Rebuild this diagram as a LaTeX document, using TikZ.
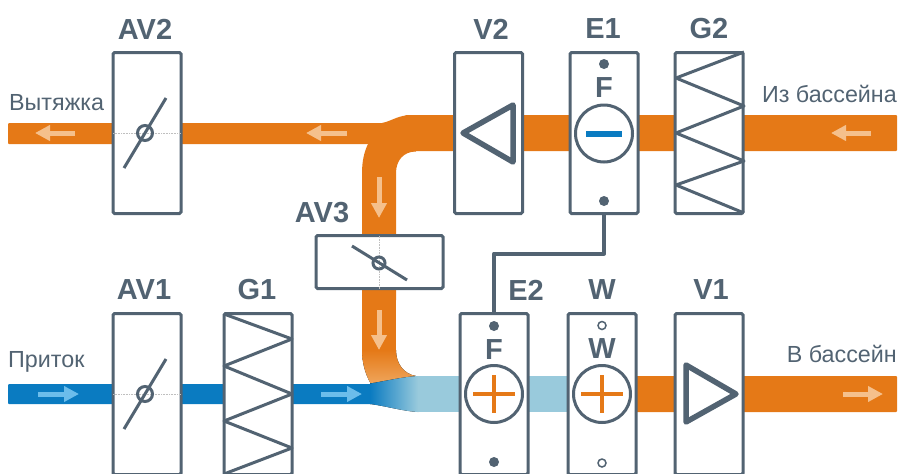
\documentclass[tikz,border=0pt]{standalone}
\usepackage{fontspec}
\setmainfont{Liberation Sans}
\usetikzlibrary{arrows.meta}
\definecolor{slate}{HTML}{526372}
\definecolor{ductorange}{HTML}{E57917}
\definecolor{ductblue}{HTML}{0A7BC1}
\definecolor{ductpale}{HTML}{99CADC}
\definecolor{ductfade}{HTML}{EFA65C}
\definecolor{flowpeach}{HTML}{F5C08C}
\definecolor{flowsky}{HTML}{6CBDEB}
\tikzset{
  unitbox/.style={draw=slate, line width=3pt, fill=white, rounded corners=1.5pt, inner sep=0pt, outer sep=0pt},
  unitlabel/.style={text=slate, font=\fontsize{29}{29}\selectfont\bfseries, inner sep=0pt},
  ductlabel/.style={text=slate, font=\fontsize{23.3}{23.3}\selectfont, inner sep=0pt},
  symline/.style={draw=slate, line width=3pt},
  flowarrow/.style={line width=5pt, -{Triangle[length=15pt,width=15pt]}},
  flapaxis/.style={draw=black!25, line width=0.6pt, densely dotted}
}
\begin{document}
\begin{tikzpicture}[x=1pt,y=-1pt]
\useasboundingbox (0,0) rectangle (900,474);
% ducts
\fill[ductorange, rounded corners=1pt] (8,123) rectangle (400,144);
\fill[ductorange, rounded corners=1pt] (405,115) rectangle (897,151);
\fill[ductorange] (382,123) .. controls (392,121) and (398,115) .. (412,115) -- (416,151.5)
  .. controls (404,151.5) and (396,160) .. (396,173) -- (396,300) -- (362,300) -- (362,173)
  .. controls (362,162) and (364,152) .. (368,144) -- cycle;
\fill[ductorange] (362,285) rectangle (396,351);
\fill[top color=ductorange, bottom color=ductfade] (362,350) -- (396,350)
  .. controls (396,364) and (404,374) .. (416,376) -- (416,384) -- (371,384)
  .. controls (365,374) and (362,362) .. (362,350) -- cycle;
\fill[ductblue, rounded corners=1pt] (8,384) rectangle (372,404);
\fill[left color=ductblue, middle color=ductblue!38!ductpale, right color=ductpale] (370,383.5)
  .. controls (386,381) and (402,377) .. (418,376) -- (418,412)
  .. controls (402,411) and (386,406) .. (370,404) -- cycle;
\fill[ductpale] (417.5,376) rectangle (600,412);
\fill[ductorange, rounded corners=1pt] (630,376) rectangle (897,412);
% units
\foreach \name/\xpos/\ypos/\wid/\hgt/\lx/\ly in {%
  AV2/147/133/68/161/145/29,%
  V2/488.5/133/68/161/491/29,%
  E1/604/133/68/161/603/29,%
  G2/709/133/68/161/709/29,%
  AV3/379.5/262/127/53/322/213,%
  AV1/147/394/68/161/144/290,%
  G1/258/394/68/161/257/290,%
  E2/494/394/68/161/526/290,%
  W/602/394/68/161/602/290,%
  V1/709/394/68/161/711/290%
} {
  \node[unitbox, minimum width=\wid pt, minimum height=\hgt pt] (\name) at (\xpos,\ypos) {};
  \node[unitlabel] (\name-label) at (\lx,\ly) {\name};
}
% link between the two coils
\draw[symline, line width=4pt, line join=round] (E1.south) -- ++(0,40) -| (E2.north);
% flaps
\draw[flapaxis] (AV2.west) -- (AV2.east);
\draw[flapaxis] (AV1.west) -- (AV1.east);
\draw[flapaxis] (AV3.north) -- (AV3.south);
\draw[symline] (124,168) -- (166,98);
\draw[symline] (124,429) -- (166,359);
\draw[symline] (352,246) -- (407,280);
\draw[symline] (145,133) circle (7.5);
\draw[symline] (145,394) circle (7.5);
\draw[symline] (379,263) circle (6);
% fans
\draw[symline, line width=5.5pt, line join=round] (463,133) -- (513,105) -- (513,162) -- cycle;
\draw[symline, line width=5.5pt, line join=round] (736,394) -- (686,365) -- (686,422) -- cycle;
% filters
\draw[symline, line join=round] (744,52) -- (676,78) -- (744,106) -- (676,133) -- (744,161) -- (676,185) -- (744,213);
\draw[symline, line join=round] (224,314) -- (292,339) -- (224,366) -- (292,394) -- (224,421) -- (292,448) -- (224,474);
% coils
\foreach \cx/\cy in {604/133.5, 494/394, 602/394} {
  \draw[symline] (\cx,\cy) circle (28.5);
}
\node[unitlabel] (E1-letter) at (604,88) {F};
\node[unitlabel] (E2-letter) at (494,350) {F};
\node[unitlabel] (W-letter) at (602,349) {W};
\fill[ductblue] (586,130.5) rectangle (622,136.5);
\draw[ductorange, line width=3.5pt] (473,394) -- (515,394) (494,375) -- (494,413);
\draw[ductorange, line width=3.5pt] (581,394) -- (623,394) (602,375) -- (602,413);
\fill[slate] (604,64) circle (5) (604,201) circle (5) (494,326) circle (5) (494,462) circle (5);
\draw[slate, line width=1.5pt] (602,325.5) circle (4) (602,463) circle (4);
% flow arrows
\draw[flowarrow, flowpeach] (75,133) -- (35,133);
\draw[flowarrow, flowpeach] (347,133) -- (306,133);
\draw[flowarrow, flowpeach] (871,133) -- (831,133);
\draw[flowarrow, flowpeach] (379,177) -- (379,218);
\draw[flowarrow, flowpeach] (379,310) -- (379,350);
\draw[flowarrow, flowsky] (38,394) -- (79,394);
\draw[flowarrow, flowsky] (321,394) -- (362,394);
\draw[flowarrow, flowpeach] (843,394) -- (883,394);
% duct names
\node[ductlabel, anchor=west] (exhaust) at (9,103) {Вытяжка};
\node[ductlabel, anchor=east] (frompool) at (897,94) {Из бассейна};
\node[ductlabel, anchor=west] (intake) at (8,362) {Приток};
\node[ductlabel, anchor=east] (topool) at (897,354) {В бассейн};
\end{tikzpicture}
\end{document}
